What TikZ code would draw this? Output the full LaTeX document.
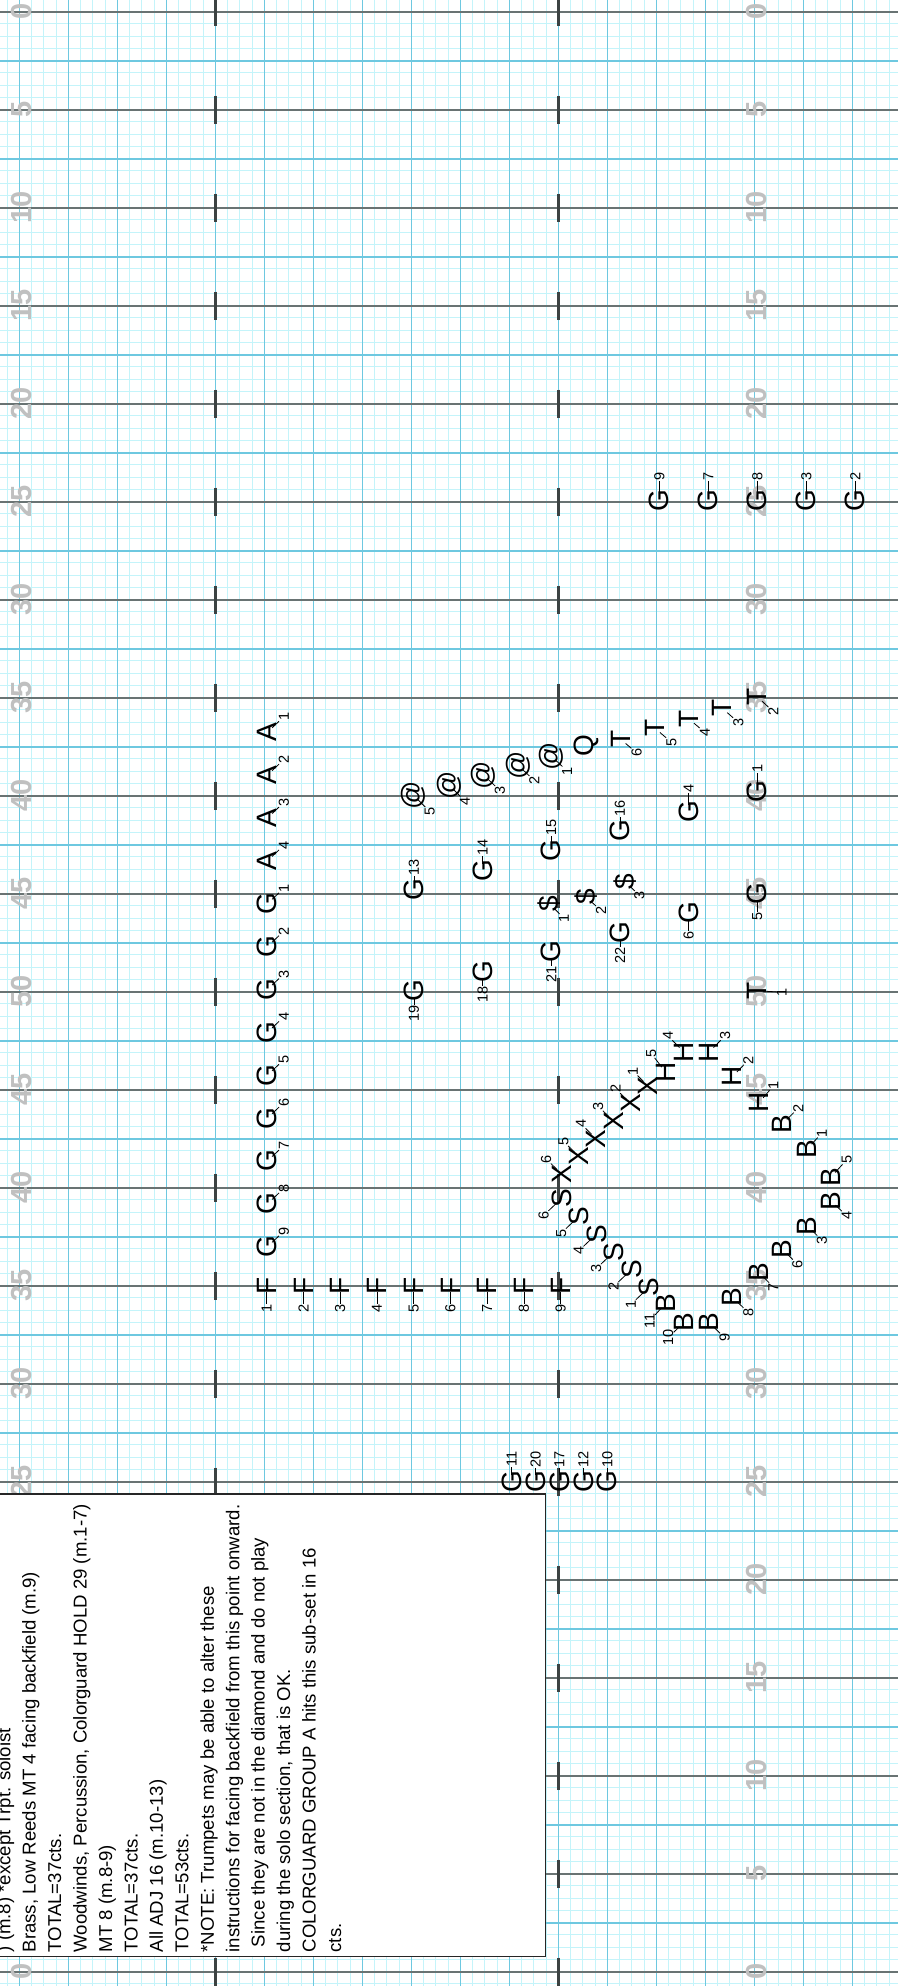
\documentclass[tikz,border=0pt]{standalone}
\usepackage{fontspec}
\setmainfont{Liberation Sans}
\definecolor{finec}{RGB}{196,244,250}
\definecolor{bluec}{RGB}{110,200,224}
\definecolor{yardc}{RGB}{105,115,115}
\definecolor{hashc}{RGB}{60,66,66}
\definecolor{numc}{RGB}{192,192,192}
\tikzset{
  finel/.style={finec, line width=1pt},
  bluel/.style={bluec, line width=1.6pt},
  yardl/.style={yardc, line width=1.8pt},
  hashl/.style={hashc, line width=2.8pt},
  yardnum/.style={rotate=90, inner sep=0pt, text=numc, font=\fontsize{29}{29}\selectfont\bfseries},
  drillmk/.style={rotate=90, inner sep=0pt, font=\fontsize{28}{28}\selectfont},
  drilllbl/.style={rotate=90, inner sep=0.3pt, font=\fontsize{14.5}{14.5}\selectfont},
  leader/.style={black, line width=0.8pt, shorten <=6.5pt},
  notebox/.style={draw=black!85, line width=1.6pt, fill=white},
  noteline/.style={rotate=90, anchor=base west, inner sep=0pt, font=\fontsize{18.6}{25.4}\selectfont},
}
\newcommand\drill[7]{%
  \node[drillmk] (#1) at ({#2},{#3}) {#4};
  \node[drilllbl] (#1n) at ({#2+#6},{#3+#7}) {#5};
  \draw[leader] (#1.center) -- (#1n);
}
\begin{document}
\begin{tikzpicture}[x=1pt,y=-1pt]
\useasboundingbox (0,0) rectangle (898,1986);
\fill[white] (0,0) rectangle (898,1986);
% fine grid
\foreach \n in {-1,...,71} \draw[finel] ({19.3+12.25*\n},0) -- ({19.3+12.25*\n},1986);
\foreach \m in {0,...,161} \draw[finel] (0,{11.7+12.25*\m}) -- (898,{11.7+12.25*\m});
% blue grid
\foreach \n in {0,...,17} \draw[bluel] ({19.3+49*\n},0) -- ({19.3+49*\n},1986);
\foreach \m in {0,...,19} \draw[bluel] (0,{60.7+98*\m}) -- (898,{60.7+98*\m});
% yard lines
\foreach \k in {0,...,20} \draw[yardl] (0,{11.7+98*\k}) -- (898,{11.7+98*\k});
% hash ticks
\foreach \k in {0,...,20} {
  \draw[hashl] (215.3,{11.7+98*\k-14}) -- (215.3,{11.7+98*\k+14});
  \draw[hashl] (558.3,{11.7+98*\k-14}) -- (558.3,{11.7+98*\k+14});
}
% yard numbers
\foreach \k/\lab in {0/0,1/5,2/10,3/15,4/20,5/25,6/30,7/35,8/40,9/45,10/50,11/45,12/40,13/35,14/30,15/25,16/20,17/15,18/10,19/5,20/0} {
  \node[yardnum] (yl\k) at (21.7,{11.7+98*\k}) {\lab};
  \node[yardnum] (yr\k) at (757,{11.7+98*\k}) {\lab};
}
% note box
\draw[notebox] (-5,1494) rectangle (545.5,1956.5);
\node[noteline] (nt1) at ({10.3+25.44*0},1952.5) {) (m.8) *except Trpt. soloist};
\node[noteline] (nt2) at ({10.3+25.44*1},1952.5) {Brass, Low Reeds MT 4 facing backfield (m.9)};
\node[noteline] (nt3) at ({10.3+25.44*2},1952.5) {TOTAL=37cts.};
\node[noteline] (nt4) at ({10.3+25.44*3},1952.5) {Woodwinds, Percussion, Colorguard HOLD 29 (m.1-7)};
\node[noteline] (nt5) at ({10.3+25.44*4},1952.5) {MT 8 (m.8-9)};
\node[noteline] (nt6) at ({10.3+25.44*5},1952.5) {TOTAL=37cts.};
\node[noteline] (nt7) at ({10.3+25.44*6},1952.5) {All ADJ 16 (m.10-13)};
\node[noteline] (nt8) at ({10.3+25.44*7},1952.5) {TOTAL=53cts.};
\node[noteline] (nt9) at ({10.3+25.44*8},1952.5) {*NOTE: Trumpets may be able to alter these};
\node[noteline] (nt10) at ({10.3+25.44*9},1952.5) {instructions for facing backfield from this point onward.};
\node[noteline] (nt11) at ({10.3+25.44*10},1952.5) {\hspace*{5.2pt}Since they are not in the diamond and do not play};
\node[noteline] (nt12) at ({10.3+25.44*11},1952.5) {during the solo section, that is OK.};
\node[noteline] (nt13) at ({10.3+25.44*12},1952.5) {COLORGUARD GROUP A hits this sub-set in 16};
\node[noteline] (nt14) at ({10.3+25.44*13},1952.5) {cts.};
% left column A / G
\foreach \i/\g/\n in {0/A/1,1/A/2,2/A/3,3/A/4,4/G/1,5/G/2,6/G/3,7/G/4,8/G/5,9/G/6,10/G/7,11/G/8,12/G/9}
  \drill{c\i}{267.3}{732.3+42.875*\i}{\g}{\n}{16.5}{-15.5};
% F row
\foreach \i in {1,...,9} \drill{f\i}{266.7+36.75*(\i-1)}{1285.7}{F}{\i}{0}{23};
% @ arc
\drill{at5}{413.3}{795}{@}{5}{16.5}{16.5}
\drill{at4}{449}{785}{@}{4}{16}{16}
\drill{at3}{483.5}{775}{@}{3}{16.5}{15.5}
\drill{at2}{518.3}{765.5}{@}{2}{16}{15}
\drill{at1}{551.7}{756.5}{@}{1}{15.5}{14.5}
\node[drillmk] (q) at (586.5,746) {Q};
% T arc
\drill{t6}{620.7}{739.3}{T}{6}{16}{13.5}
\drill{t5}{655}{728.3}{T}{5}{16.5}{14}
\drill{t4}{689}{719}{T}{4}{16}{13.5}
\drill{t3}{722.3}{708.3}{T}{3}{16}{14}
\drill{t2}{757.3}{696.7}{T}{2}{16}{15}
\drill{t1}{756.7}{990.7}{T}{1}{25}{1.5}
% G top row
\foreach \i/\n in {0/9,1/7,2/8,3/3,4/2} \drill{gt\n}{659.3+49*\i}{500.7}{G}{\n}{0}{-24.5};
% G diagonals
\foreach \i/\n in {0/13,1/14,2/15,3/16,4/4,5/1} \drill{gu\n}{414+68.66*\i}{890-19.66*\i}{G}{\n}{0}{-23};
\foreach \i/\n in {0/19,1/18,2/21,3/22,4/6,5/5} \drill{gl\n}{414+68.66*\i}{990.7-19.5*\i}{G}{\n}{0}{23};
% dollars
\drill{d1}{549.5}{903.5}{\$}{1}{14.5}{15}
\drill{d2}{586}{897}{\$}{2}{15}{13.5}
\drill{d3}{625}{881.5}{\$}{3}{14.5}{14}
% H
\drill{h5}{665.7}{1072.3}{H}{5}{-14.5}{-19}
\drill{h4}{684}{1052.3}{H}{4}{-16}{-16.5}
\drill{h3}{709}{1052.3}{H}{3}{16}{-16.5}
\drill{h2}{732.3}{1076.7}{H}{2}{16}{-16.5}
\drill{h1}{759}{1102.7}{H}{1}{14.5}{-17}
% X
\foreach \i in {1,...,6} \drill{x\i}{648.3-17.32*(\i-1)}{1086+17.6*(\i-1)}{X}{\i}{-15.5}{-15};
% S
\foreach \i in {1,...,6} \drill{s\i}{649-17.46*(\i-1)}{1287.3-17.8*(\i-1)}{S}{\i}{-18}{17};
% B
\drill{b11}{665.7}{1303.3}{B}{11}{-16}{17.5}
\drill{b10}{684}{1322.3}{B}{10}{-16}{15.5}
\drill{b9}{709}{1322.3}{B}{9}{15.5}{15.5}
\drill{b8}{732.3}{1297.3}{B}{8}{16}{15}
\drill{b7}{759}{1272.3}{B}{7}{14.5}{15}
\drill{b6}{782.3}{1249}{B}{6}{15}{15}
\drill{b3}{807.3}{1225.7}{B}{3}{14.5}{14.5}
\drill{b4}{830.7}{1200.7}{B}{4}{16}{15}
\drill{b5}{830.7}{1177.3}{B}{5}{16}{-17.5}
\drill{b1}{807.3}{1149}{B}{1}{14.5}{-16}
\drill{b2}{782.3}{1124}{B}{2}{16}{-16}
% G bottom row
\foreach \i/\n in {0/11,1/20,2/17,3/12,4/10} \drill{gb\n}{511.7+23.9*\i}{1481.7}{G}{\n}{0}{-22.5};
\end{tikzpicture}
\end{document}
